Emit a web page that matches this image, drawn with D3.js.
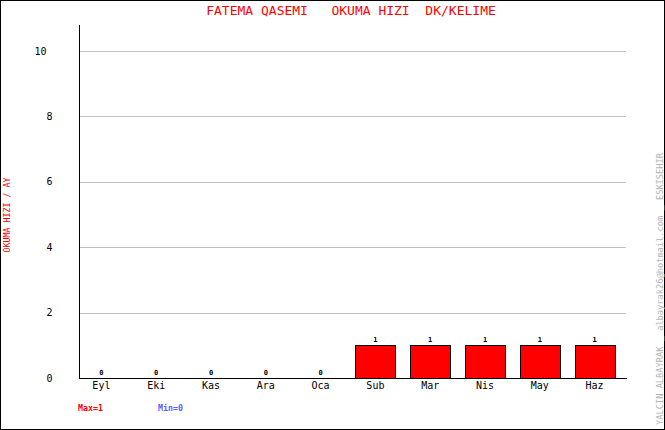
<!DOCTYPE html>
<html><head><meta charset="utf-8">
<script src="https://cdn.jsdelivr.net/npm/d3@7"></script>
<style>body{margin:0;background:#fff}svg{display:block}text{font-family:"DejaVu Sans Mono",monospace}</style>
</head><body>
<script>
const months = ["Eyl","Eki","Kas","Ara","Oca","Sub","Mar","Nis","May","Haz"];
const values = [0,0,0,0,0,1,1,1,1,1];
const yTicks = [0,2,4,6,8,10];
const title = "FATEMA QASEMI   OKUMA HIZI  DK/KELIME";
const yLabel = "OKUMA HIZI / AY";
const credit = "YALCIN ALBAYRAK _ albayrak26@hotmail.com _ ESKISEHIR";
const maxText = "Max=" + d3.max(values);
const minText = "Min=" + d3.min(values);

const W = 665, H = 430;
const svg = d3.select("body").append("svg").attr("width", W).attr("height", H);
svg.append("rect").attr("x",0.5).attr("y",0.5).attr("width",W-1).attr("height",H-1)
  .attr("fill","#fff").attr("stroke","#000");

const x = d3.scaleBand().domain(months).range([74,622]).paddingInner(0.27).paddingOuter(0.135);
const y = d3.scaleLinear().domain([0,10]).range([378,51]);

// gridlines
svg.append("g").selectAll("line").data(yTicks.filter(d=>d>0)).join("line")
  .attr("x1",80).attr("x2",626)
  .attr("y1",d=>Math.round(y(d))+0.5).attr("y2",d=>Math.round(y(d))+0.5)
  .attr("stroke","#c0c0c0");

// y axis tick labels
svg.append("g").selectAll("text").data(yTicks).join("text")
  .attr("x",52.5).attr("y",d=>y(d)).attr("dy","0.35em")
  .attr("text-anchor","end").attr("font-size",10).attr("fill","#000")
  .style("white-space","pre")
  .text(d=> d>=10 ? d+"\u00a0" : String(d));

// bars
svg.append("g").selectAll("rect").data(values).join("rect")
  .attr("x",(d,i)=>Math.round(x(months[i]))+0.5)
  .attr("y",d=>Math.round(y(d))+0.5)
  .attr("width",Math.round(x.bandwidth()))
  .attr("height",d=>Math.round(y(0)-y(d)))
  .attr("fill","#ff0000").attr("stroke","#000")
  .style("display",d=>d>0?null:"none");

// value labels
svg.append("g").selectAll("text").data(values).join("text")
  .attr("x",(d,i)=>x(months[i])+x.bandwidth()/2)
  .attr("y",d=>y(d)-3)
  .attr("text-anchor","middle").attr("font-size",7).attr("font-weight","bold")
  .text(d=>d);

// axes lines
svg.append("line").attr("x1",79.5).attr("x2",79.5).attr("y1",25).attr("y2",378.5).attr("stroke","#000");
svg.append("line").attr("x1",79).attr("x2",627).attr("y1",378.5).attr("y2",378.5).attr("stroke","#000");

// x labels
svg.append("g").selectAll("text").data(months).join("text")
  .attr("x",d=>x(d)+x.bandwidth()/2).attr("y",389)
  .attr("text-anchor","middle").attr("font-size",10).text(d=>d);

// title
svg.append("text").attr("x",351).attr("y",15).attr("text-anchor","middle")
  .attr("font-size",13).attr("fill","#ff0000").style("white-space","pre").text(title);

// y label
svg.append("text").attr("transform","translate(10,215) rotate(-90)")
  .attr("text-anchor","middle").attr("font-size",8.3).attr("fill","#ff0000").text(yLabel);

// credit
svg.append("text").attr("transform","translate(663,289) rotate(-90)")
  .attr("text-anchor","middle").attr("font-size",8.7).attr("fill","#b4b4b4").text(credit);

// max / min
svg.append("text").attr("x",78).attr("y",411).attr("font-size",8.3).attr("font-weight","bold").attr("fill","#ff0000").text(maxText);
svg.append("text").attr("x",158).attr("y",411).attr("font-size",8.3).attr("font-weight","bold").attr("fill","#6060ff").text(minText);
</script>
</body></html>
